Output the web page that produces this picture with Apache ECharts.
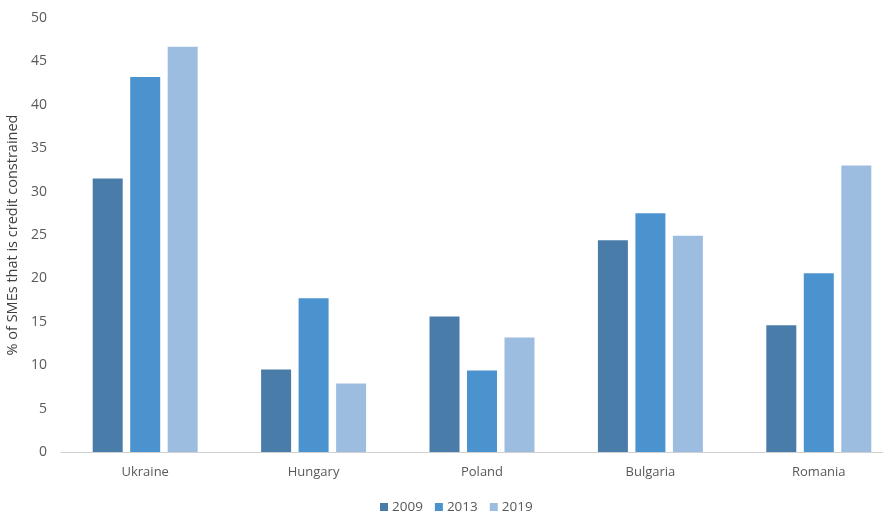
<!DOCTYPE html>
<html><head><meta charset="utf-8">
<script src="https://cdn.jsdelivr.net/npm/echarts@6/dist/echarts.min.js"></script>
<style>html,body{margin:0;padding:0;background:#fff}#c{width:883px;height:513px}</style>
</head><body><div id="c"></div>
<script>
const categories = ["Ukraine", "Hungary", "Poland", "Bulgaria", "Romania"];
const years = ["2009", "2013", "2019"];
const v2009 = [31.5, 9.5, 15.6, 24.4, 14.6];
const v2013 = [43.2, 17.7, 9.4, 27.5, 20.6];
const v2019 = [46.7, 7.9, 13.2, 24.9, 33.0];
const colors = ["#4a7caa", "#4a93cf", "#9dbde0"];
const seriesData = [v2009, v2013, v2019];

const chart = echarts.init(document.getElementById('c'));
chart.setOption({
  animation: false,
  textStyle: {fontFamily: "Open Sans, Noto Sans, sans-serif"},
  grid: {left: 61, right: -20, top: 18, bottom: 61, outerBoundsMode: 'none', containLabel: false},
  legend: {
    top: 500, left: 380, padding: 0, itemWidth: 8, itemHeight: 8, itemGap: 12,
    icon: 'rect',
    textStyle: {color: '#595959', fontSize: 13.5, padding: [0,0,0,-1]},
    data: years
  },
  xAxis: {
    type: 'category', data: categories,
    axisLine: {lineStyle: {color: '#d0d0d0', width: 1}},
    axisTick: {show: false},
    axisLabel: {color: '#595959', fontSize: 13, margin: 14}
  },
  yAxis: {
    type: 'value', min: 0, max: 50, interval: 5,
    name: '% of SMEs that is credit constrained',
    nameLocation: 'middle', nameGap: 36, nameRotate: 90,
    nameTextStyle: {color: '#404040', fontSize: 14.5},
    axisLine: {show: false}, axisTick: {show: false}, splitLine: {show: false},
    axisLabel: {color: '#595959', fontSize: 14, margin: 14}
  },
  series: years.map((y, i) => ({
    name: y, type: 'bar', data: seriesData[i],
    barWidth: 30, barGap: '25%',
    itemStyle: {color: colors[i]}
  }))
});
</script></body></html>
